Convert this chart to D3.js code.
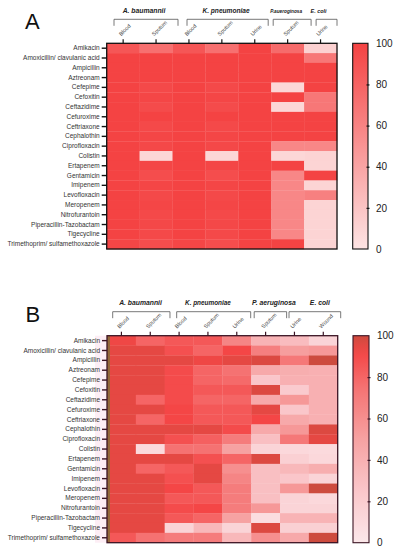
<!DOCTYPE html>
<html>
<head>
<meta charset="utf-8">
<script src="https://cdn.jsdelivr.net/npm/d3@7"></script>
<style>
html,body{margin:0;padding:0;background:#fff;}
svg{display:block;font-family:"Liberation Sans",Arial,sans-serif;}
</style>
</head>
<body>
<svg id="chart" width="399" height="550"></svg>
<script>
// ---------- DATA ----------
const drugs = ["Amikacin","Amoxicillin/ clavulanic acid","Ampicillin","Aztreonam","Cefepime","Cefoxitin","Ceftazidime","Cefuroxime","Ceftriaxone","Cephalothin","Ciprofloxacin","Colistin","Ertapenem","Gentamicin","Imipenem","Levofloxacin","Meropenem","Nitrofurantoin","Piperacillin-Tazobactam","Tigecycline","Trimethoprim/ sulfamethoxazole"];

const colsA = ["Blood","Sputum","Blood","Sputum","Urine","Sputum","Urine"];
const groupsA = [["A. baumannii",0,1],["K. pneumoniae",2,4],["P.aueroginosa",5,5],["E. coli",6,6]];
const valuesA = [
  [88,72,88,72,100,75,12],
  [100,100,100,100,100,100,68],
  [100,100,100,100,100,100,100],
  [100,100,100,100,100,100,100],
  [100,96,100,96,100,8,100],
  [100,98,100,98,100,100,68],
  [100,95,100,95,100,8,68],
  [100,100,100,100,100,100,100],
  [100,96,100,96,100,100,100],
  [100,98,100,98,100,100,100],
  [100,97,100,97,100,58,58],
  [100,8,100,8,100,8,10],
  [100,98,100,98,100,100,10],
  [100,94,100,94,100,58,100],
  [100,98,100,98,100,58,10],
  [100,96,100,96,100,58,62],
  [100,98,100,98,100,58,10],
  [100,96,100,96,100,58,10],
  [100,97,100,97,100,58,10],
  [100,96,100,96,100,58,10],
  [98,94,98,94,100,100,10]
];

const colsB = ["Blood","Sputum","Blood","Sputum","Urine","Sputum","Urine","Wound"];
const groupsB = [["A. baumannii",0,1],["K. pneumoniae",2,4],["P. aeruginosa",5,5],["E. coli",6,7]];
const valuesB = [
  [93,80,85,85,65,38,32,15],
  [95,95,88,80,92,68,52,55],
  [95,95,95,93,95,97,72,100],
  [95,95,90,80,75,45,42,40],
  [95,95,90,80,78,25,40,40],
  [95,95,90,85,85,97,22,40],
  [95,80,90,80,80,45,55,40],
  [95,95,92,85,85,95,25,40],
  [95,80,92,85,85,92,45,40],
  [95,95,95,95,90,45,55,97],
  [95,95,88,82,70,30,72,95],
  [95,10,75,75,50,15,12,10],
  [95,95,95,88,80,97,18,12],
  [95,80,85,95,60,30,35,42],
  [95,95,88,95,65,30,25,15],
  [95,95,92,85,70,30,55,100],
  [95,95,85,85,70,30,15,12],
  [95,95,90,92,70,55,15,15],
  [95,95,85,80,50,8,38,38],
  [95,95,15,35,15,97,18,18],
  [85,75,70,70,35,60,45,100]
];

const legendTicks = [0,20,40,60,80,100];

// ---------- DRAW ----------
const svg = d3.select("#chart");
svg.append("rect").attr("width",399).attr("height",550).attr("fill","#fff");

const colorA = d3.scaleLinear().domain([0,100]).range(["#fde4e4","#f44343"]).interpolate(d3.interpolateRgb);
const colorB = d3.scaleLinear().domain([0,25,50,75,92,100])
  .range(["#fbe8ea","#fac6ca","#f6a2a2","#f57272","#f44646","#cd4b3e"]).interpolate(d3.interpolateRgb);

function panel(opts){
  const {letter, letterX, letterY, x0, x1, y0, y1, cols, groups, values, color, frame, cbX, cbW, id,
         bracketPad, labelShift, labelSize, labelLen} = opts;
  const g = svg.append("g");
  const idx = cols.map((c,i)=>i);
  const x = d3.scaleBand().domain(idx).range([x0,x1]).padding(0);
  const y = d3.scaleBand().domain(drugs).range([y0,y1]).padding(0);

  g.append("text").attr("x",letterX).attr("y",letterY).attr("font-size",22).attr("fill","#111").text(letter);

  if (opts.tint) {
    g.append("rect").attr("x",x0-12).attr("y",y0).attr("width",12).attr("height",y1-y0).attr("fill",opts.tint);
  }

  const cells = [];
  values.forEach((row,r)=>row.forEach((v,c)=>cells.push({r,c,v})));
  g.selectAll("rect.cell").data(cells).enter().append("rect")
    .attr("x",d=>x(d.c)).attr("y",d=>y(drugs[d.r]))
    .attr("width",x.bandwidth()+0.3).attr("height",y.bandwidth()+0.3)
    .attr("fill",d=>color(d.v));

  if (opts.strip) {
    g.append("rect").attr("x",x0).attr("y",y0).attr("width",3).attr("height",y1-y0).attr("fill",opts.strip);
  }

  g.append("rect").attr("x",x0).attr("y",y0).attr("width",x1-x0).attr("height",y1-y0)
    .attr("fill","none").attr("stroke",frame).attr("stroke-width",1.3);

  // left axis
  const ay = g.append("g").attr("transform",`translate(${x0},0)`)
    .call(d3.axisLeft(y).tickSize(5).tickPadding(2));
  ay.select(".domain").remove();
  ay.selectAll(".tick line").attr("stroke",frame).attr("stroke-width",1.4);
  ay.selectAll(".tick text").attr("font-size",6.5).attr("fill","#333").attr("font-family","Liberation Sans, Arial, sans-serif");

  // top axis ticks
  const ax = g.append("g").attr("transform",`translate(0,${y0})`)
    .call(d3.axisTop(x).tickSize(4).tickFormat(""));
  ax.select(".domain").remove();
  ax.selectAll(".tick line").attr("stroke",frame).attr("stroke-width",1.2);

  // rotated column labels
  g.selectAll("text.col").data(idx).enter().append("text")
    .attr("transform",i=>`translate(${x(i)+x.bandwidth()/2-2},${y0-7}) rotate(-45)`)
    .attr("font-size",5.5).attr("fill","#444").text(i=>cols[i]);

  // group brackets
  const by = y0-24;
  groups.forEach(([name,a,b],k)=>{
    const xa = x(a)+bracketPad[k][0];
    const xb = x(b)+x.bandwidth()+bracketPad[k][1];
    g.append("path").attr("d",`M${xa},${by+6.5}V${by}H${xb}V${by+6.5}`)
      .attr("fill","none").attr("stroke","#555").attr("stroke-width",0.8);
    const t = g.append("text").attr("x",(x(a)+x(b)+x.bandwidth())/2 + labelShift[k]).attr("y",y0-30.5)
      .attr("text-anchor","middle").attr("font-size",labelSize[k]).attr("font-weight","bold").attr("font-style","italic")
      .attr("fill","#222").text(name);
    if (labelLen && labelLen[k]) t.attr("textLength",labelLen[k]).attr("lengthAdjust","spacingAndGlyphs");
  });

  // colorbar
  const defs = svg.append("defs");
  const grad = defs.append("linearGradient").attr("id",id).attr("x1",0).attr("y1",1).attr("x2",0).attr("y2",0);
  d3.range(0,101,5).forEach(v=>grad.append("stop").attr("offset",v/100).attr("stop-color",color(v)));
  g.append("rect").attr("x",cbX).attr("y",y0).attr("width",cbW).attr("height",y1-y0)
    .attr("fill",`url(#${id})`).attr("stroke",frame).attr("stroke-width",1.1);
  const cy = d3.scaleLinear().domain([0,100]).range([y1,y0]);
  const ac = g.append("g").attr("transform",`translate(${cbX+cbW-1.5},0)`)
    .call(d3.axisRight(cy).tickValues(legendTicks).tickSize(3).tickPadding(6.5));
  ac.select(".domain").remove();
  ac.selectAll(".tick line").attr("stroke",frame).attr("stroke-width",1.2);
  ac.selectAll(".tick line").filter(d=>d===0||d===100).remove();
  ac.selectAll(".tick text").attr("font-size",10).attr("fill","#222").attr("font-family","Liberation Sans, Arial, sans-serif");
}

panel({letter:"A",letterX:25,letterY:28.5,x0:106.7,x1:337,y0:43.3,y1:249,cols:colsA,groups:groupsA,values:valuesA,
  color:colorA,frame:"#111",cbX:352.7,cbW:15.3,id:"gA",
  bracketPad:[[7.3,5.5],[14.5,-3],[2,7],[12,0]], labelShift:[4.4,4.2,-1.5,-2], labelSize:[6.8,6.6,6.2,6.2],
  labelLen:[0,0,32,16]});
panel({letter:"B",letterX:25.5,letterY:322,x0:107,x1:337.7,y0:335.7,y1:542.7,cols:colsB,groups:groupsB,values:valuesB,
  color:colorB,frame:"#3b1424",cbX:353,cbW:16,id:"gB",strip:"#94683a",tint:"#fdeef5",
  bracketPad:[[5.7,5.3],[12,-0.5],[3,6.6],[9,3]], labelShift:[4.7,0,8.3,11], labelSize:[6.8,6.4,6.8,6.8],
  labelLen:null});
</script>
</body>
</html>
